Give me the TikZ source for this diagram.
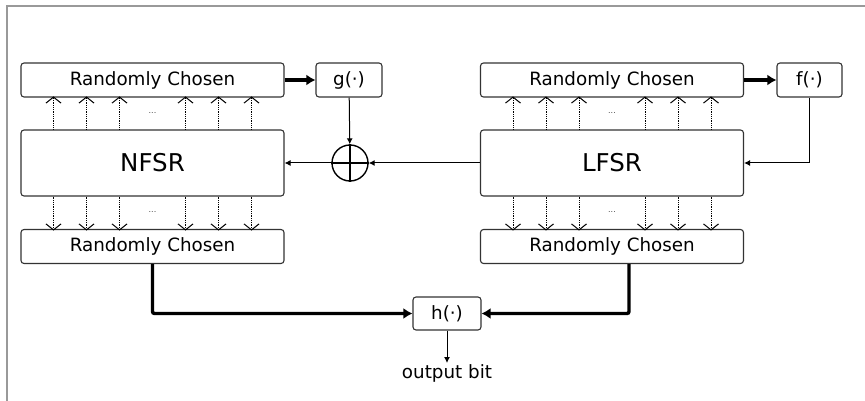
\documentclass[tikz,border=0pt]{standalone}
\usepackage{fontspec}
\setmainfont{DejaVu Sans}
\usetikzlibrary{arrows.meta}

\begin{document}
\begin{tikzpicture}[x=1pt,y=-1pt,
    box/.style={draw=black!80,line width=1.1pt,rounded corners=3pt,
        inner sep=0pt,font=\fontsize{18.3}{21}\selectfont},
    wide/.style={box,minimum width=263pt,minimum height=34pt},
    reg/.style={box,minimum width=263pt,minimum height=66pt,
        font=\fontsize{24.5}{28}\selectfont},
    fun/.style={box,minimum width=66pt,minimum height=34pt},
    tap/.style={densely dotted,line width=0.8pt,
        -{Straight Barb[length=6pt,width=15pt,line width=1pt,sep=0pt]}},
    thin/.style={line width=1pt,-{Latex[length=6pt,width=6pt]}},
    bus/.style={line width=3.4pt,rounded corners=2pt,
        -{Latex[length=9pt,width=11pt]}}]
    \useasboundingbox (0,0) rectangle (865,401);
    % frame of the screenshot
    \draw[black!40,line width=1.3pt] (7,401) -- (7,6) -- (865,6);

    \node[wide] (rcNT) at (152.5,80) {Randomly Chosen};
    \node[fun]  (gfun) at (349,80)   {g(·)};
    \node[reg]  (nfsr) at (152.5,163) {NFSR};
    \node[wide] (rcNB) at (152.5,246.5) {Randomly Chosen};

    \node[wide] (rcLT) at (612,80)   {Randomly Chosen};
    \node[fun,minimum width=65pt] (ffun) at (809.5,80) {f(·)};
    \node[reg]  (lfsr) at (612,163)  {LFSR};
    \node[wide] (rcLB) at (612,246.5) {Randomly Chosen};

    \node[draw,circle,line width=1.4pt,minimum size=36pt,inner sep=0pt] (xor) at (350,163) {};
    \draw[line width=1.4pt] (xor.north) -- (xor.south) (xor.west) -- (xor.east);

    \node[fun,minimum width=68pt,minimum height=33pt] (hfun) at (447,313.5) {h(·)};
    \node[font=\fontsize{18.3}{21}\selectfont,anchor=north,inner sep=1pt] (out) at (447,363) {output bit};

    % taps between the registers and the selections
    \foreach \k in {-3,-2,-1,1,2,3} {
        \draw[tap] (nfsr.north) ++(33*\k,0) -- ++(0,-33);
        \draw[tap] (nfsr.south) ++(33*\k,0) -- ++(0,34);
        \draw[tap] (lfsr.north) ++(33*\k,0) -- ++(0,-33);
        \draw[tap] (lfsr.south) ++(33*\k,0) -- ++(0,34);
    }
    \foreach \n in {nfsr,lfsr} {
        \node[font=\footnotesize,black!70] at ([yshift=16pt]\n.north) {...};
        \node[font=\footnotesize,black!70] at ([yshift=-15pt]\n.south) {...};
    }

    \draw[bus] (rcNT) -- (gfun);
    \draw[bus] (rcLT) -- (ffun);
    \draw[thin] (gfun) -- (xor);
    \draw[thin] (ffun.south) |- (lfsr.east);
    \draw[thin] (lfsr) -- (xor);
    \draw[thin] (xor) -- (nfsr);
    \draw[bus] (rcNB.south) |- (hfun.west);
    \draw[bus] ([xshift=17pt]rcLB.south) |- (hfun.east);
    \draw[thin] (hfun) -- (out);
\end{tikzpicture}
\end{document}
